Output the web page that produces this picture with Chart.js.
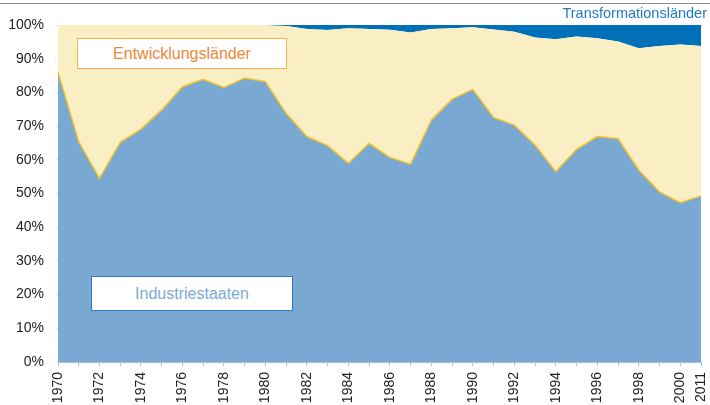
<!DOCTYPE html>
<html>
<head>
<meta charset="utf-8">
<script src="https://cdn.jsdelivr.net/npm/chart.js@4/dist/chart.umd.min.js"></script>
<style>
  html, body { margin: 0; padding: 0; background: #fff; }
  #wrap { position: relative; width: 710px; height: 405px; font-family: 'Liberation Sans', Arial, sans-serif; }
  #topline { position: absolute; left: 0; top: 3px; width: 710px; height: 0; border-top: 1.5px solid #8a8a8a; }
  canvas { position: absolute; left: 0; top: 0; }
  .lbl { position: absolute; box-sizing: border-box; background: #fff; display: flex; align-items: center; justify-content: center; font-size: 16px; }
  #ent { left: 77px; top: 38px; width: 210px; height: 31px; border: 1.5px solid #f7b24f; color: #f0873a; }
  #ind { left: 91px; top: 276px; width: 202px; height: 35px; border: 1.5px solid #2a7bc3; color: #7aaad6; }
  #trans { position: absolute; right: 3px; top: 5px; font-size: 14.5px; color: #1f7ac4; }
</style>
</head>
<body>
<div id="wrap">
  <canvas id="c" width="710" height="405"></canvas>
  <div id="topline"></div>
  <div id="trans">Transformationsländer</div>
  <div class="lbl" id="ent">Entwicklungsländer</div>
  <div class="lbl" id="ind">Industriestaaten</div>
</div>
<script>
const years = ['1970','1971','1972','1973','1974','1975','1976','1977','1978','1979',
               '1980','1981','1982','1983','1984','1985','1986','1987','1988','1989',
               '1990','1991','1992','1993','1994','1995','1996','1997','1998','1999',
               '2000','2011'];
const industriestaaten = [86.1, 65.4, 54.5, 65.2, 69.1, 74.8, 81.7, 83.9, 81.5, 84.3,
                          83.2, 73.8, 66.9, 64.2, 59.0, 64.9, 60.7, 58.7, 71.8, 78.0,
                          80.9, 72.6, 70.3, 64.4, 56.5, 63.1, 66.9, 66.3, 57.0, 50.5,
                          47.3, 49.3];
const entwicklungslaender = [13.9, 34.6, 45.5, 34.8, 30.9, 25.2, 18.3, 16.1, 18.5, 15.7,
                             16.8, 25.9, 31.9, 34.3, 40.0, 33.9, 37.9, 39.1, 27.0, 21.0,
                             18.4, 26.1, 27.7, 31.9, 39.3, 33.5, 29.2, 28.8, 36.1, 43.3,
                             46.9, 44.5];
const transformationslaender = [0, 0, 0, 0, 0, 0, 0, 0, 0, 0,
                                0, 0.3, 1.2, 1.5, 1.0, 1.2, 1.4, 2.2, 1.2, 1.0,
                                0.7, 1.3, 2.0, 3.7, 4.2, 3.4, 3.9, 4.9, 6.9, 6.2,
                                5.8, 6.2];
const yTicks = [0, 10, 20, 30, 40, 50, 60, 70, 80, 90, 100];

const FONT = "'Liberation Sans', Arial, sans-serif";

new Chart(document.getElementById('c'), {
  type: 'line',
  data: {
    labels: years,
    datasets: [
      { label: 'Industriestaaten', data: industriestaaten, fill: 'origin',
        backgroundColor: '#79a9d3', borderColor: '#f5c42c', borderWidth: 1.5,
        pointRadius: 0, tension: 0 },
      { label: 'Entwicklungsländer', data: entwicklungslaender, fill: '-1',
        backgroundColor: '#faeec5', borderColor: 'rgba(0,0,0,0)', borderWidth: 0,
        pointRadius: 0, tension: 0 },
      { label: 'Transformationsländer', data: transformationslaender, fill: '-1',
        backgroundColor: '#0071b9', borderColor: '#0071b9', borderWidth: 1.5,
        pointRadius: 0, tension: 0 }
    ]
  },
  options: {
    responsive: false,
    animation: false,
    layout: { padding: { left: 0, right: 9, top: 25, bottom: 0 } },
    plugins: { legend: { display: false }, tooltip: { enabled: false } },
    scales: {
      x: {
        offset: false,
        grid: { display: true, drawOnChartArea: false, tickLength: 4, color: '#9cc2e4' },
        border: { display: true, color: '#9cc2e4' },
        ticks: {
          autoSkip: false, minRotation: 90, maxRotation: 90, padding: 6,
          color: '#222', font: { family: FONT, size: 14 },
          callback: function(v, i) { return (i % 2 === 0 || i === years.length - 1) ? years[i] : ''; }
        },
        afterFit: function(s) { s.height = 43; s.paddingLeft = 0; s.paddingRight = 0; }
      },
      y: {
        stacked: true, min: 0, max: 100,
        afterBuildTicks: function(s) { s.ticks = yTicks.map(v => ({ value: v })); },
        grid: { display: true, drawOnChartArea: false, tickLength: 3, color: '#e4e4e4' },
        border: { display: false },
        ticks: {
          padding: 11, color: '#222', font: { family: FONT, size: 14 },
          callback: function(v) { return v + '%'; }
        },
        afterFit: function(s) { s.width = 58; s.paddingTop = 0; s.paddingBottom = 0; }
      }
    }
  }
});
</script>
</body>
</html>
